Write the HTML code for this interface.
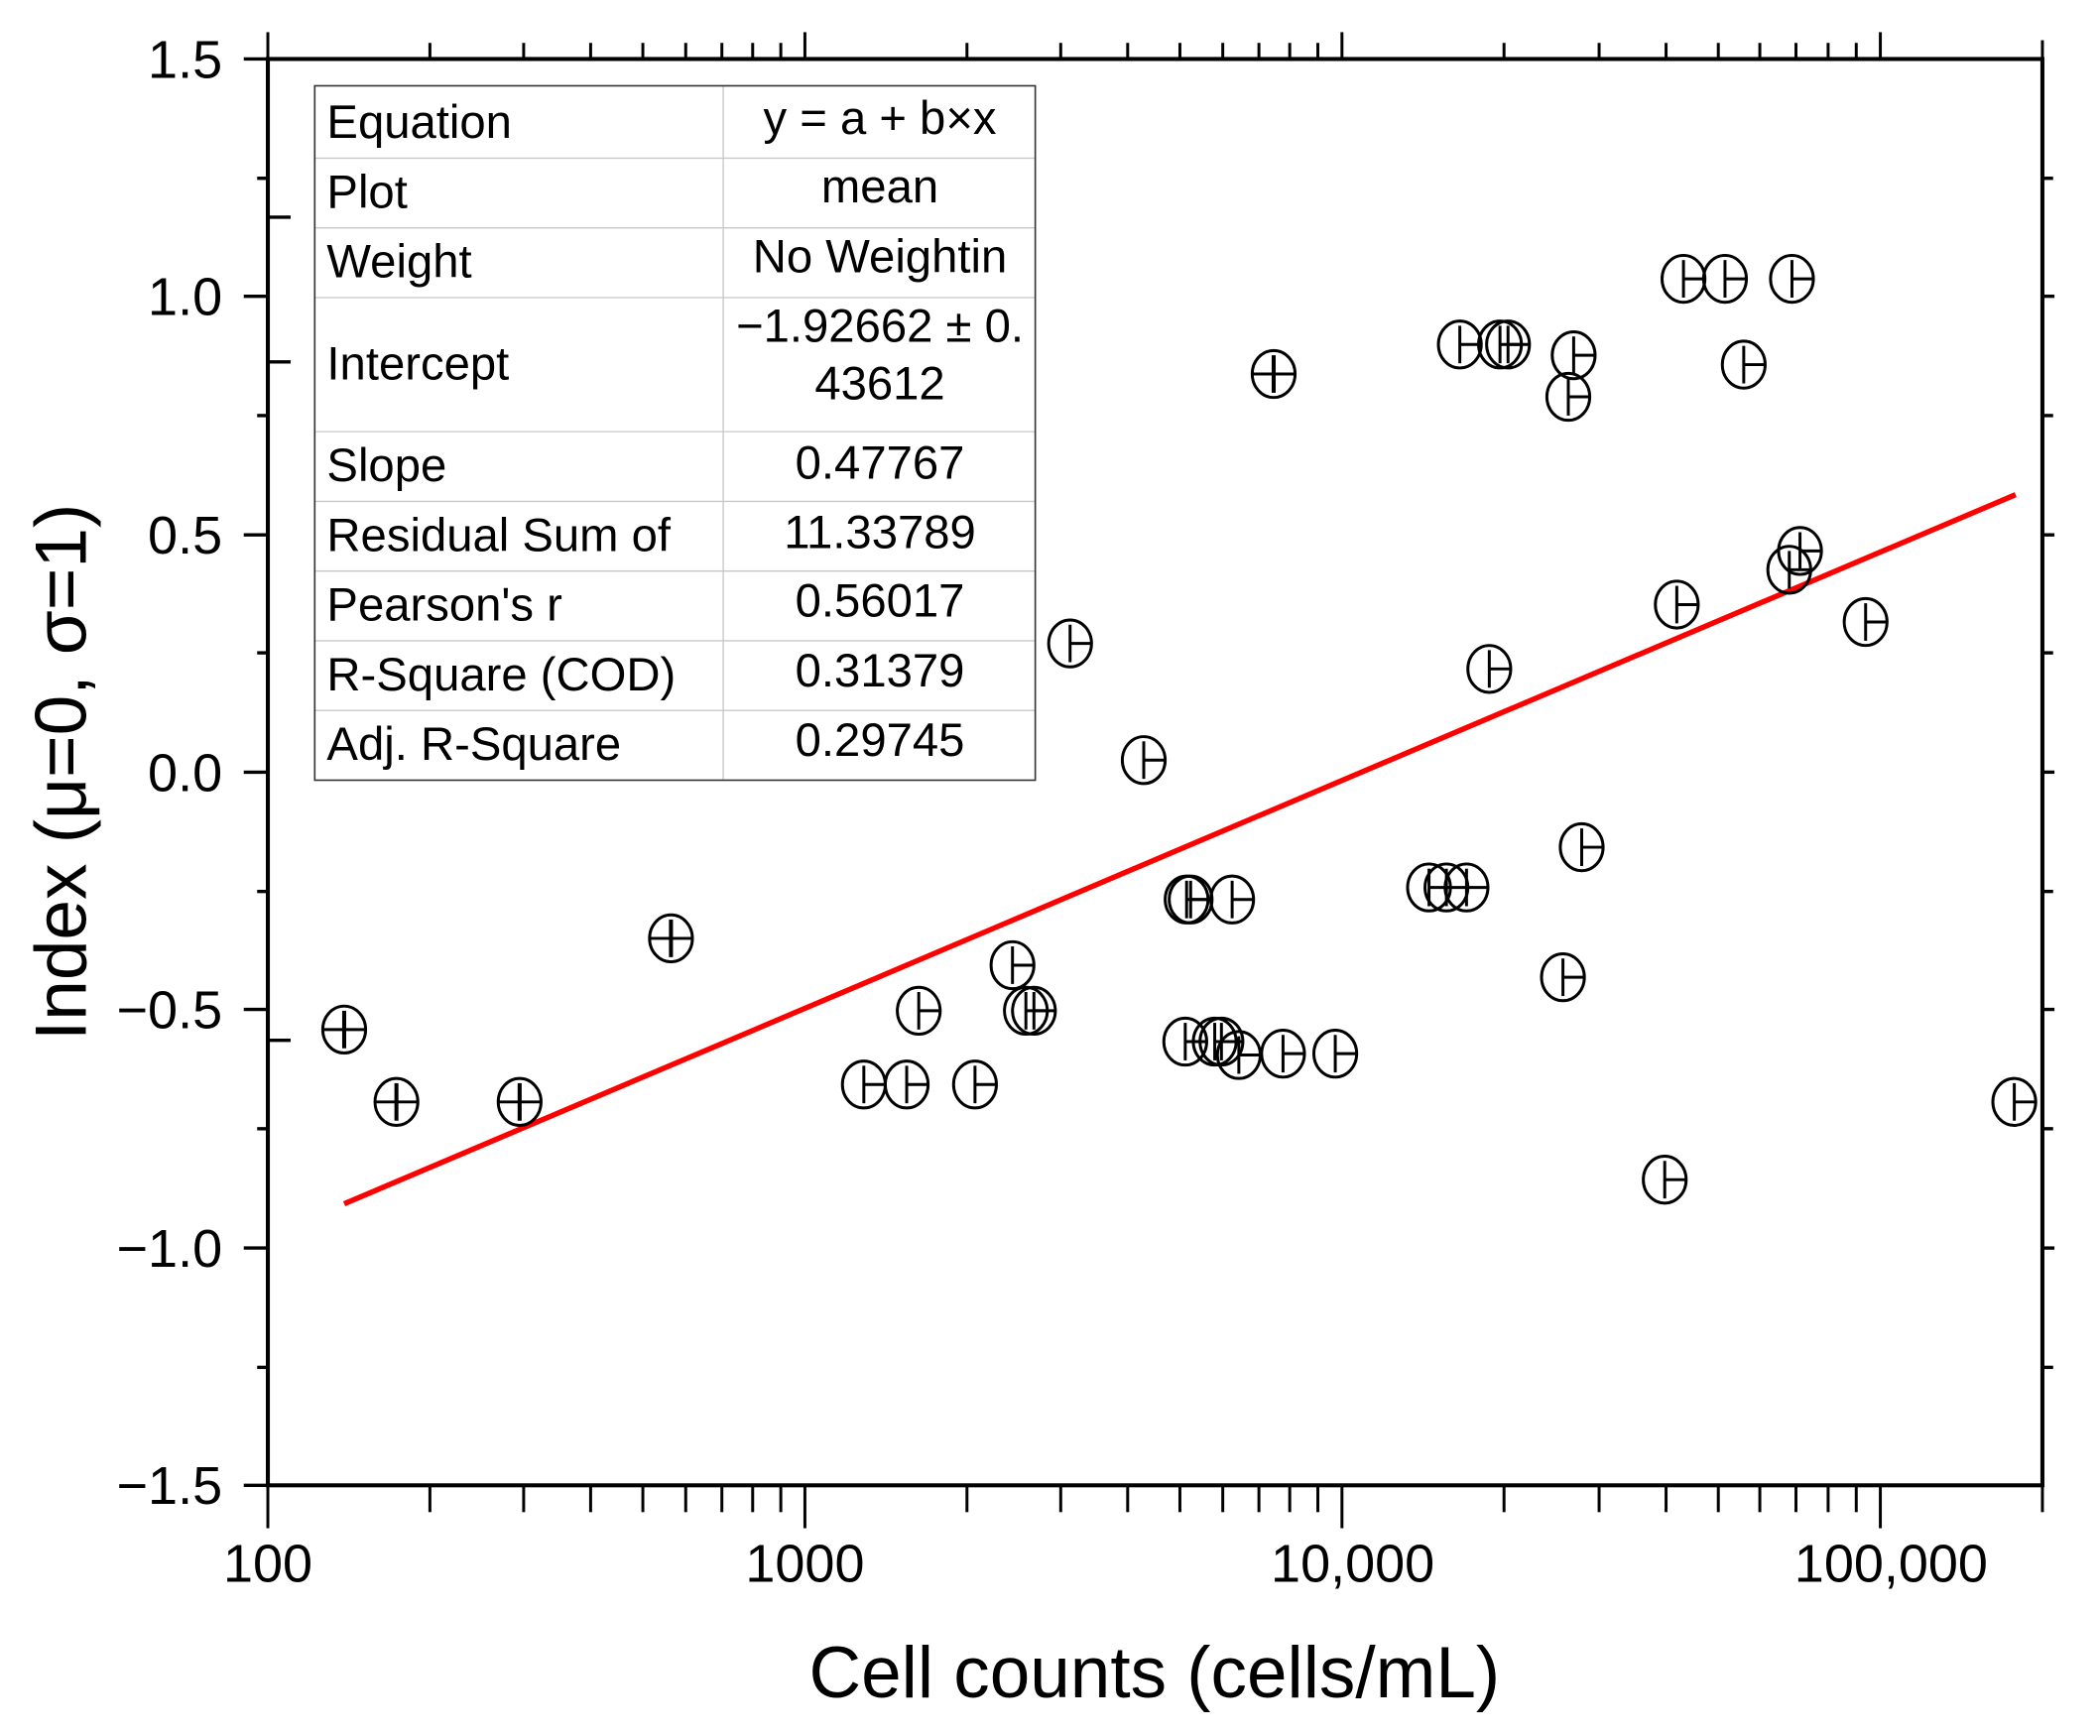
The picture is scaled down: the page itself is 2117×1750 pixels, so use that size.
<!DOCTYPE html>
<html><head><meta charset="utf-8"><style>
html,body{margin:0;padding:0;background:#fff;}
svg{display:block;}
text{font-family:"Liberation Sans",Arial,sans-serif;fill:#000;}
</style></head><body>
<svg width="2117" height="1750" viewBox="0 0 1568 1295" preserveAspectRatio="none" xmlns="http://www.w3.org/2000/svg">
<rect width="1568" height="1295" fill="#fff"/>
<g stroke="#c8c8c8" stroke-width="1">
<line x1="235" y1="118" x2="773" y2="118"/><line x1="235" y1="170" x2="773" y2="170"/>
<line x1="235" y1="222" x2="773" y2="222"/><line x1="235" y1="322" x2="773" y2="322"/>
<line x1="235" y1="374" x2="773" y2="374"/><line x1="235" y1="426" x2="773" y2="426"/>
<line x1="235" y1="478" x2="773" y2="478"/><line x1="235" y1="530" x2="773" y2="530"/>
<line x1="540" y1="64" x2="540" y2="582"/>
</g>
<rect x="235" y="64" width="538" height="518" fill="none" stroke="#333" stroke-width="1.2"/>
<g font-size="35">
<text x="244" y="103">Equation</text><text x="244" y="155">Plot</text><text x="244" y="207">Weight</text>
<text x="244" y="283">Intercept</text><text x="244" y="359">Slope</text><text x="244" y="411">Residual Sum of</text>
<text x="244" y="463">Pearson's r</text><text x="244" y="515">R-Square (COD)</text><text x="244" y="567">Adj. R-Square</text>
<g text-anchor="middle">
<text x="657" y="100">y = a + b×x</text><text x="657" y="151">mean</text><text x="657" y="203">No Weightin</text>
<text x="657" y="255">−1.92662 ± 0.</text><text x="657" y="298">43612</text>
<text x="657" y="357">0.47767</text><text x="657" y="409">11.33789</text><text x="657" y="460">0.56017</text>
<text x="657" y="512">0.31379</text><text x="657" y="564">0.29745</text>
</g></g>
<line x1="257" y1="898" x2="1505" y2="369" stroke="#ff0000" stroke-width="4"/>
<defs>
<g id="h"><ellipse cx="0" cy="0" rx="16" ry="17.5" fill="none" stroke="#000" stroke-width="2.2"/><line x1="0" y1="-14" x2="0" y2="14" stroke="#000" stroke-width="2.2"/><line x1="0" y1="0" x2="16" y2="0" stroke="#000" stroke-width="2.2"/></g>
<g id="c"><ellipse cx="0" cy="0" rx="16" ry="17.5" fill="none" stroke="#000" stroke-width="2.2"/><line x1="0" y1="-14" x2="0" y2="14" stroke="#000" stroke-width="3"/><line x1="-16" y1="0" x2="16" y2="0" stroke="#000" stroke-width="2.2"/></g>
</defs>
<use href="#c" x="257" y="768"/><use href="#c" x="296" y="822"/><use href="#c" x="388" y="822"/><use href="#c" x="501" y="700"/><use href="#c" x="951" y="279"/>
<use href="#h" x="645" y="809"/><use href="#h" x="677" y="809"/><use href="#h" x="728" y="809"/><use href="#h" x="686" y="754"/>
<use href="#h" x="756" y="720"/><use href="#h" x="766" y="754"/><use href="#h" x="772" y="754"/><use href="#h" x="799" y="480"/>
<use href="#h" x="854" y="567"/><use href="#h" x="886" y="671"/><use href="#h" x="889" y="671"/><use href="#h" x="920" y="671"/>
<use href="#h" x="885" y="777"/><use href="#h" x="907" y="777"/><use href="#h" x="912" y="777"/><use href="#h" x="925" y="787"/>
<use href="#h" x="958" y="786"/><use href="#h" x="997" y="786"/>
<use href="#h" x="1067" y="662"/><use href="#h" x="1080" y="662"/><use href="#h" x="1095" y="662"/>
<use href="#h" x="1090" y="257"/><use href="#h" x="1120" y="257"/><use href="#h" x="1126" y="257"/>
<use href="#h" x="1112" y="499"/><use href="#h" x="1175" y="265"/><use href="#h" x="1171" y="296"/>
<use href="#h" x="1181" y="632"/><use href="#h" x="1167" y="729"/><use href="#h" x="1243" y="880"/><use href="#h" x="1252" y="451"/>
<use href="#h" x="1257" y="208"/><use href="#h" x="1288" y="208"/><use href="#h" x="1338" y="208"/><use href="#h" x="1302" y="272"/>
<use href="#h" x="1336" y="425"/><use href="#h" x="1344" y="411"/><use href="#h" x="1393" y="464"/><use href="#h" x="1504" y="822"/>
<g stroke="#000" stroke-width="3" fill="none">
<rect x="200" y="44" width="1325" height="1064"/>
</g>
<g stroke="#000" stroke-width="2.5">
<line x1="182" y1="44" x2="200" y2="44"/><line x1="182" y1="221" x2="200" y2="221"/><line x1="182" y1="399" x2="200" y2="399"/>
<line x1="182" y1="576" x2="200" y2="576"/><line x1="182" y1="753" x2="200" y2="753"/><line x1="182" y1="931" x2="200" y2="931"/><line x1="182" y1="1108" x2="200" y2="1108"/>
<line x1="1525" y1="221" x2="1534" y2="221"/><line x1="1525" y1="399" x2="1534" y2="399"/><line x1="1525" y1="576" x2="1534" y2="576"/>
<line x1="1525" y1="753" x2="1534" y2="753"/><line x1="1525" y1="931" x2="1534" y2="931"/>
<line x1="192" y1="133" x2="200" y2="133"/><line x1="192" y1="310" x2="200" y2="310"/><line x1="192" y1="487" x2="200" y2="487"/>
<line x1="192" y1="665" x2="200" y2="665"/><line x1="192" y1="842" x2="200" y2="842"/><line x1="192" y1="1020" x2="200" y2="1020"/>
<line x1="1525" y1="133" x2="1533" y2="133"/><line x1="1525" y1="310" x2="1533" y2="310"/><line x1="1525" y1="487" x2="1533" y2="487"/>
<line x1="1525" y1="665" x2="1533" y2="665"/><line x1="1525" y1="842" x2="1533" y2="842"/><line x1="1525" y1="1020" x2="1533" y2="1020"/>
<line x1="200" y1="162" x2="217" y2="162"/><line x1="200" y1="270" x2="217" y2="270"/><line x1="200" y1="776" x2="217" y2="776"/>
</g>
<g stroke="#000" stroke-width="2.2">
<line x1="200" y1="1108" x2="200" y2="1140"/><line x1="601" y1="1108" x2="601" y2="1140"/><line x1="1002" y1="1108" x2="1002" y2="1140"/><line x1="1404" y1="1108" x2="1404" y2="1140"/><line x1="1525" y1="1108" x2="1525" y2="1128"/>
<line x1="321" y1="1108" x2="321" y2="1128"/><line x1="391" y1="1108" x2="391" y2="1128"/><line x1="441" y1="1108" x2="441" y2="1128"/><line x1="480" y1="1108" x2="480" y2="1128"/><line x1="512" y1="1108" x2="512" y2="1128"/><line x1="539" y1="1108" x2="539" y2="1128"/><line x1="562" y1="1108" x2="562" y2="1128"/><line x1="583" y1="1108" x2="583" y2="1128"/>
<line x1="722" y1="1108" x2="722" y2="1128"/><line x1="792" y1="1108" x2="792" y2="1128"/><line x1="842" y1="1108" x2="842" y2="1128"/><line x1="881" y1="1108" x2="881" y2="1128"/><line x1="913" y1="1108" x2="913" y2="1128"/><line x1="940" y1="1108" x2="940" y2="1128"/><line x1="963" y1="1108" x2="963" y2="1128"/><line x1="984" y1="1108" x2="984" y2="1128"/>
<line x1="1123" y1="1108" x2="1123" y2="1128"/><line x1="1194" y1="1108" x2="1194" y2="1128"/><line x1="1244" y1="1108" x2="1244" y2="1128"/><line x1="1283" y1="1108" x2="1283" y2="1128"/><line x1="1314" y1="1108" x2="1314" y2="1128"/><line x1="1341" y1="1108" x2="1341" y2="1128"/><line x1="1365" y1="1108" x2="1365" y2="1128"/><line x1="1386" y1="1108" x2="1386" y2="1128"/>
<line x1="200" y1="44" x2="200" y2="24"/><line x1="601" y1="44" x2="601" y2="24"/><line x1="1002" y1="44" x2="1002" y2="24"/><line x1="1404" y1="44" x2="1404" y2="24"/><line x1="1525" y1="44" x2="1525" y2="30"/>
<line x1="321" y1="44" x2="321" y2="32"/><line x1="391" y1="44" x2="391" y2="32"/><line x1="441" y1="44" x2="441" y2="32"/><line x1="480" y1="44" x2="480" y2="32"/><line x1="512" y1="44" x2="512" y2="32"/><line x1="539" y1="44" x2="539" y2="32"/><line x1="562" y1="44" x2="562" y2="32"/><line x1="583" y1="44" x2="583" y2="32"/>
<line x1="722" y1="44" x2="722" y2="32"/><line x1="792" y1="44" x2="792" y2="32"/><line x1="842" y1="44" x2="842" y2="32"/><line x1="881" y1="44" x2="881" y2="32"/><line x1="913" y1="44" x2="913" y2="32"/><line x1="940" y1="44" x2="940" y2="32"/><line x1="963" y1="44" x2="963" y2="32"/><line x1="984" y1="44" x2="984" y2="32"/>
<line x1="1123" y1="44" x2="1123" y2="32"/><line x1="1194" y1="44" x2="1194" y2="32"/><line x1="1244" y1="44" x2="1244" y2="32"/><line x1="1283" y1="44" x2="1283" y2="32"/><line x1="1314" y1="44" x2="1314" y2="32"/><line x1="1341" y1="44" x2="1341" y2="32"/><line x1="1365" y1="44" x2="1365" y2="32"/><line x1="1386" y1="44" x2="1386" y2="32"/>
</g>
<g font-size="40" text-anchor="end">
<text x="166" y="58">1.5</text><text x="166" y="235">1.0</text><text x="166" y="413">0.5</text><text x="166" y="590">0.0</text>
<text x="166" y="767">−0.5</text><text x="166" y="945">−1.0</text><text x="166" y="1122">−1.5</text>
</g>
<g font-size="40" text-anchor="middle">
<text x="200" y="1180">100</text><text x="601" y="1180">1000</text><text x="1010" y="1180">10,000</text><text x="1412" y="1180">100,000</text>
</g>
<text x="862" y="1266" font-size="54" text-anchor="middle">Cell counts (cells/mL)</text>
<text transform="translate(64,576) rotate(-90)" font-size="54" text-anchor="middle">Index (μ=0, σ=1)</text>
</svg>
</body></html>
